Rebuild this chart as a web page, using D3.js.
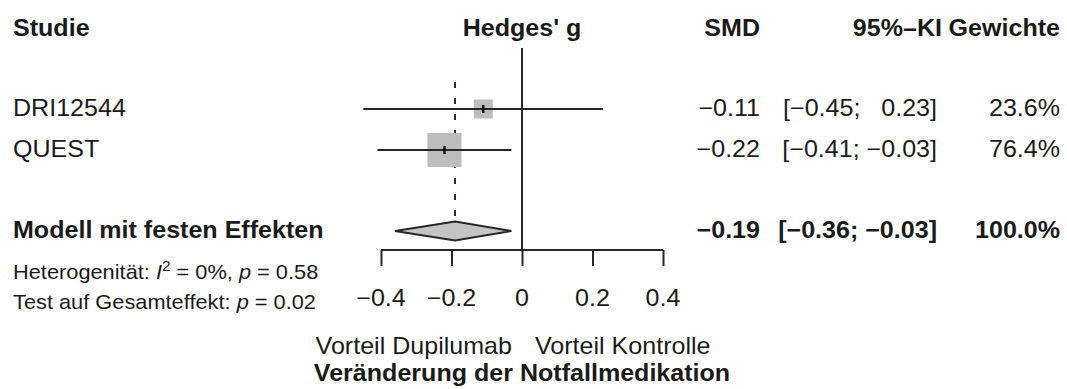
<!DOCTYPE html>
<html>
<head>
<meta charset="utf-8">
<script src="https://cdn.jsdelivr.net/npm/d3@7"></script>
<style>
  html, body { margin: 0; padding: 0; background: #fff; }
  svg { display: block; }
  text { font-family: "Liberation Sans", Arial, Helvetica, sans-serif; fill: #1a1a1a; }
</style>
</head>
<body>
<svg id="forest" width="1067" height="389"></svg>
<script>
// Study-level results (Hedges' g)
const studies   = ["DRI12544", "QUEST"];
const smd       = [-0.11, -0.22];
const ciLow     = [-0.45, -0.41];
const ciHigh    = [0.23, -0.03];
const weights   = [23.6, 76.4];

// Fixed-effect pooled result
const pooledLabel  = "Modell mit festen Effekten";
const pooledEst    = -0.19;
const pooledLow    = -0.36;
const pooledHigh   = -0.03;
const pooledWeight = 100.0;

// Heterogeneity and overall test
const i2Value   = 0;
const hetP      = 0.58;
const overallP  = 0.02;

// Axis
const axisTicks  = [-0.4, -0.2, 0, 0.2, 0.4];
const axisDomain = [-0.4, 0.4];

const headers = { study: "Studie", effect: "Hedges' g", smd: "SMD", ci: "95%\u2013KI", weight: "Gewichte" };
const labelLeft  = "Vorteil Dupilumab";
const labelRight = "Vorteil Kontrolle";
const xLabel     = "Veränderung der Notfallmedikation";

const svg = d3.select("#forest");
const FS = 23, FS_SMALL = 20, SX = 1.09;
const ink = "#262626";

const x = d3.scaleLinear().domain(axisDomain).range([381, 663]);
const rowY = d3.scalePoint().domain(studies).range([109, 150]);
const summaryY = 231;
const axisY = 250;

const minus = v => (v < 0 ? "\u2212" : "") + Math.abs(v).toFixed(2);
const ciText = (lo, hi) => "[" + minus(lo) + ";" + (hi < 0 ? " " : " \u2007") + minus(hi) + "]";

function label(xPos, yPos, str, opts = {}) {
  return svg.append("text")
    .attr("transform", `translate(${xPos},${yPos}) scale(${SX},1)`)
    .attr("text-anchor", opts.anchor || "start")
    .attr("font-size", opts.size || FS)
    .attr("font-weight", opts.bold ? "bold" : "normal")
    .text(str);
}

// Column headers
label(13, 36, headers.study, { bold: true });
label(522, 36, headers.effect, { bold: true, anchor: "middle" });
label(760, 36, headers.smd, { bold: true, anchor: "end" });
label(942, 36, headers.ci, { bold: true, anchor: "end" });
label(1060, 36, headers.weight, { bold: true, anchor: "end" });

// Line of no effect
svg.append("line")
  .attr("x1", x(0)).attr("x2", x(0))
  .attr("y1", 48).attr("y2", axisY)
  .attr("stroke", ink).attr("stroke-width", 2);

// Pooled estimate reference line
svg.append("line")
  .attr("x1", x(pooledEst)).attr("x2", x(pooledEst))
  .attr("y1", 82).attr("y2", 217)
  .attr("stroke", ink).attr("stroke-width", 2)
  .attr("stroke-dasharray", "6,10");

// Study rows
studies.forEach((s, i) => {
  const y = rowY(s);
  const side = 39 * Math.sqrt(weights[i] / 100);
  svg.append("rect")
    .attr("x", x(smd[i]) - side / 2).attr("y", y - side / 2)
    .attr("width", side).attr("height", side)
    .attr("fill", "#bdbdbd");
  svg.append("line")
    .attr("x1", x(ciLow[i])).attr("x2", x(ciHigh[i]))
    .attr("y1", y).attr("y2", y)
    .attr("stroke", ink).attr("stroke-width", 2);
  svg.append("line")
    .attr("x1", x(smd[i])).attr("x2", x(smd[i]))
    .attr("y1", y - 4).attr("y2", y + 4)
    .attr("stroke", "#111").attr("stroke-width", 2.5);

  label(13, y + 7, s);
  label(760, y + 7, minus(smd[i]), { anchor: "end" });
  label(937, y + 7, ciText(ciLow[i], ciHigh[i]), { anchor: "end" });
  label(1060, y + 7, weights[i].toFixed(1) + "%", { anchor: "end" });
});

// Pooled diamond
const dh = 9.5;
svg.append("path")
  .attr("d", d3.line()([
    [x(pooledLow), summaryY], [x(pooledEst), summaryY - dh],
    [x(pooledHigh), summaryY], [x(pooledEst), summaryY + dh]
  ]) + "Z")
  .attr("fill", "#c4c4c4").attr("stroke", ink).attr("stroke-width", 1.8);

label(13, summaryY + 7, pooledLabel, { bold: true });
label(760, summaryY + 7, minus(pooledEst), { bold: true, anchor: "end" });
label(937, summaryY + 7, ciText(pooledLow, pooledHigh), { bold: true, anchor: "end" });
label(1060, summaryY + 7, pooledWeight.toFixed(1) + "%", { bold: true, anchor: "end" });

// Heterogeneity statistics
const het = label(13, 279, "", { size: FS_SMALL });
het.append("tspan").text("Heterogenität: ");
het.append("tspan").attr("font-style", "italic").text("I");
het.append("tspan").attr("font-size", FS_SMALL * 0.7).attr("dy", -8).text("2");
het.append("tspan").attr("dy", 8).text(" = " + i2Value + "%, ");
het.append("tspan").attr("font-style", "italic").text("p");
het.append("tspan").text(" = " + hetP.toFixed(2));

const test = label(13, 309, "", { size: FS_SMALL });
test.append("tspan").text("Test auf Gesamteffekt: ");
test.append("tspan").attr("font-style", "italic").text("p");
test.append("tspan").text(" = " + overallP.toFixed(2));

// x axis
const axis = svg.append("g").attr("transform", `translate(0,${axisY})`)
  .call(d3.axisBottom(x).tickValues(axisTicks).tickSize(16).tickPadding(0)
    .tickFormat(d => d === 0 ? "0" : (d < 0 ? "\u2212" : "") + Math.abs(d).toFixed(1)));
axis.select(".domain").attr("stroke", ink).attr("stroke-width", 2).attr("d", `M${x(axisDomain[0])},0H${x(axisDomain[1])}`);
axis.selectAll(".tick line").attr("stroke", ink).attr("stroke-width", 2);
axis.selectAll(".tick text").remove();
axisTicks.forEach(t => {
  label(x(t), 306, t === 0 ? "0" : (t < 0 ? "\u2212" : "") + Math.abs(t).toFixed(1), { anchor: "middle" });
});

// Direction labels and axis title
label(x(0) - 10, 354, labelLeft, { anchor: "end" });
label(x(0) + 13, 354, labelRight, { anchor: "start" });
label(x(0), 381, xLabel, { bold: true, anchor: "middle" });
</script>
</body>
</html>
